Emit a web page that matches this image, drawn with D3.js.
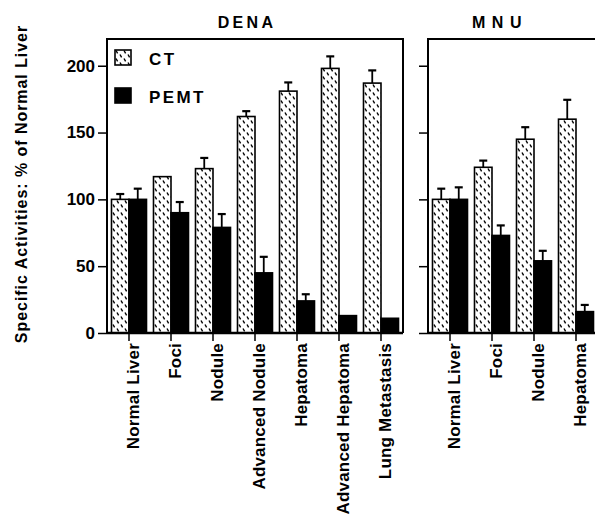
<!DOCTYPE html>
<html>
<head>
<meta charset="utf-8">
<script src="https://cdn.jsdelivr.net/npm/d3@7"></script>
<style>
  body { margin: 0; background: #fff; }
  svg { display: block; font-family: "Liberation Sans", Arial, Helvetica, sans-serif; font-weight: bold; }
</style>
</head>
<body>
<div id="chart"></div>
<script>
// values (% of normal liver)
const seriesNames = ['CT', 'PEMT'];
const yTicks = [0, 50, 100, 150, 200];

const denaCategories = ['Normal Liver', 'Foci', 'Nodule', 'Advanced Nodule', 'Hepatoma', 'Advanced Hepatoma', 'Lung Metastasis'];
const denaCT = [100, 117, 123, 162, 181, 198, 187];
const denaCTErr = [4, 0, 8, 4, 6.5, 9, 9.5];
const denaPEMT = [100, 90, 79, 45, 24, 13, 11];
const denaPEMTErr = [8, 8, 10, 12, 5, 0, 0];

const mnuCategories = ['Normal Liver', 'Foci', 'Nodule', 'Hepatoma'];
const mnuCT = [100, 124, 145, 160];
const mnuCTErr = [8, 5, 9, 14.5];
const mnuPEMT = [100, 73, 54, 16];
const mnuPEMTErr = [9, 7.5, 7.5, 5];

const width = 595, height = 516;
const svg = d3.select('#chart').append('svg')
  .attr('width', width)
  .attr('height', height);

// hatch pattern for the CT bars
const pat = svg.append('defs').append('pattern')
  .attr('id', 'hatch')
  .attr('patternUnits', 'userSpaceOnUse')
  .attr('width', 8)
  .attr('height', 8);
pat.append('rect').attr('width', 8).attr('height', 8).attr('fill', '#fff');
pat.append('path')
  .attr('d', 'M1,0.5 L2.6,3.3 M5,4.5 L6.6,7.3')
  .attr('stroke', '#000')
  .attr('stroke-width', 1.4);

const y = d3.scaleLinear().domain([0, 220]).range([333, 39]);

const panels = [
  { title: 'DENA', cats: denaCategories, ct: denaCT, ctErr: denaCTErr, pemt: denaPEMT, pemtErr: denaPEMTErr,
    left: 107, right: 403, closed: true, titleX: 247, titleSpacing: 3.3 },
  { title: 'MNU', cats: mnuCategories, ct: mnuCT, ctErr: mnuCTErr, pemt: mnuPEMT, pemtErr: mnuPEMTErr,
    left: 428, right: 600, closed: false, titleX: 500, titleSpacing: 6.5 }
];

panels.forEach(p => {
  const g = svg.append('g');
  const x0 = d3.scaleBand().domain(p.cats).range([p.left + 1, p.left + 1 + p.cats.length * 42]).padding(0);
  const x1 = d3.scaleBand().domain(seriesNames).range([0, x0.bandwidth()]).paddingInner(0).paddingOuter(0.2);

  const rows = p.cats.map((c, i) => ({
    cat: c,
    vals: [
      { key: 'CT', v: p.ct[i], e: p.ctErr[i] },
      { key: 'PEMT', v: p.pemt[i], e: p.pemtErr[i] }
    ]
  }));

  const grp = g.selectAll('g.grp').data(rows).enter().append('g')
    .attr('transform', d => `translate(${x0(d.cat)},0)`);

  grp.selectAll('rect').data(d => d.vals).enter().append('rect')
    .attr('x', d => x1(d.key))
    .attr('y', d => y(d.v))
    .attr('width', x1.bandwidth())
    .attr('height', d => y(0) - y(d.v))
    .attr('fill', d => d.key === 'CT' ? 'url(#hatch)' : '#000')
    .attr('stroke', '#000')
    .attr('stroke-width', 1.6);

  // one-sided error bars
  const eb = grp.selectAll('g.err').data(d => d.vals.filter(v => v.e > 0)).enter().append('g')
    .attr('stroke', '#000').attr('stroke-width', 1.8);
  eb.append('line')
    .attr('x1', d => x1(d.key) + x1.bandwidth() / 2)
    .attr('x2', d => x1(d.key) + x1.bandwidth() / 2)
    .attr('y1', d => y(d.v))
    .attr('y2', d => y(d.v + d.e));
  eb.append('line')
    .attr('x1', d => x1(d.key) + x1.bandwidth() / 2 - 4)
    .attr('x2', d => x1(d.key) + x1.bandwidth() / 2 + 4)
    .attr('y1', d => y(d.v + d.e))
    .attr('y2', d => y(d.v + d.e))
    .attr('stroke-width', 2.2);

  // frame
  const fr = g.append('g').attr('stroke', '#000').attr('stroke-width', 2).attr('fill', 'none');
  fr.append('path').attr('d', p.closed
    ? `M${p.left},${y(0)} V${y.range()[1]} H${p.right} V${y(0)}`
    : `M${p.left},${y(0)} V${y.range()[1]} H${p.right}`);

  // y axis
  const yAxis = g.append('g')
    .attr('transform', `translate(${p.left},0)`)
    .call(d3.axisLeft(y).tickValues(yTicks).tickSize(9).tickPadding(3).tickFormat(p.closed ? d3.format('d') : ''));
  yAxis.select('.domain').remove();
  yAxis.selectAll('line').attr('stroke', '#000').attr('stroke-width', 1.5);
  yAxis.selectAll('text')
    .style('font-size', '17px')
    .style('font-weight', 'bold')
    .style('font-family', '"Liberation Sans", Arial, sans-serif')
    .attr('fill', '#000');

  // x axis
  const xAxis = g.append('g')
    .attr('transform', `translate(0,${y(0)})`)
    .call(d3.axisBottom(x0).tickSize(8).tickSizeOuter(0));
  xAxis.select('.domain').attr('d', `M${p.left},0 H${p.right}`).attr('stroke', '#000').attr('stroke-width', 2.4);
  xAxis.selectAll('line').attr('stroke', '#000').attr('stroke-width', 1.5);
  xAxis.selectAll('text')
    .attr('transform', 'rotate(-90)')
    .attr('x', -10)
    .attr('y', 0)
    .attr('dy', '0.6em')
    .attr('dx', 0)
    .style('text-anchor', 'end')
    .style('font-size', '17px')
    .style('font-weight', 'bold')
    .style('font-family', '"Liberation Sans", Arial, sans-serif')
    .style('letter-spacing', '0.2px')
    .attr('fill', '#000');

  svg.append('text')
    .attr('x', p.titleX)
    .attr('y', 28)
    .attr('text-anchor', 'middle')
    .style('font-size', '16px')
    .style('letter-spacing', p.titleSpacing + 'px')
    .text(p.title);
});

// legend
const legend = svg.append('g').attr('transform', 'translate(115,50)');
seriesNames.forEach((s, i) => {
  legend.append('rect')
    .attr('x', 0)
    .attr('y', i * 38)
    .attr('width', 16)
    .attr('height', 15)
    .attr('fill', s === 'CT' ? 'url(#hatch)' : '#000')
    .attr('stroke', '#000')
    .attr('stroke-width', 1.6);
  legend.append('text')
    .attr('x', 34)
    .attr('y', i * 38 + 15)
    .style('font-size', '17px')
    .style('letter-spacing', '2.4px')
    .text(s);
});

// y axis title
svg.append('text')
  .attr('transform', 'translate(27,184) rotate(-90)')
  .attr('text-anchor', 'middle')
  .style('font-size', '16px')
  .style('letter-spacing', '0.95px')
  .text('Specific Activities: % of Normal Liver');
</script>
</body>
</html>
